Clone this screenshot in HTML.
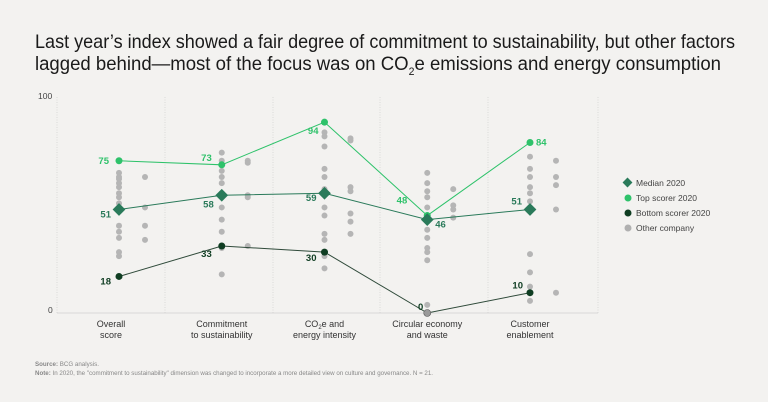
<!DOCTYPE html>
<html><head><meta charset="utf-8"><style>
html,body{margin:0;padding:0;background:#f3f2f0;}
svg{display:block;font-family:"Liberation Sans",sans-serif;}
</style></head><body>
<svg id="chart" width="768" height="402" viewBox="0 0 768 402" xmlns="http://www.w3.org/2000/svg">
<rect width="768" height="402" fill="#f3f2f0"/>
<text x="35" y="48" font-size="19.5" fill="#1a1a1a" textLength="700" lengthAdjust="spacingAndGlyphs">Last year’s index showed a fair degree of commitment to sustainability, but other factors</text>
<text x="35" y="70" font-size="19.5" fill="#1a1a1a" transform="translate(35 0) scale(0.953 1) translate(-35 0)">lagged behind—most of the focus was on CO<tspan font-size="11" dy="5">2</tspan><tspan dy="-5">e emissions and energy consumption</tspan></text>
<g id="plot"></g>
<g>
 <rect x="624" y="179" width="7" height="7" fill="#2a7a5a" transform="rotate(45 627.5 182.5)"/>
 <text x="636" y="186" font-size="8.5" fill="#444">Median 2020</text>
 <circle cx="628" cy="198" r="3.5" fill="#2ec26a"/>
 <text x="636" y="201" font-size="8.5" fill="#444">Top scorer 2020</text>
 <circle cx="628" cy="213" r="3.5" fill="#0f3d22"/>
 <text x="636" y="216" font-size="8.5" fill="#444">Bottom scorer 2020</text>
 <circle cx="628" cy="228" r="3.5" fill="#b0b0b0"/>
 <text x="636" y="231" font-size="8.5" fill="#444">Other company</text>
</g>
<text x="35" y="366" font-size="6.2" fill="#888"><tspan font-weight="bold">Source:</tspan> BCG analysis.</text>
<text x="35" y="375" font-size="6.2" fill="#888" textLength="398" lengthAdjust="spacingAndGlyphs"><tspan font-weight="bold">Note:</tspan> In 2020, the "commitment to sustainability" dimension was changed to incorporate a more detailed view on culture and governance. N = 21.</text>
</svg>
<script>
const categories=[["Overall","score"],["Commitment","to sustainability"],["CO2e and","energy intensity"],["Circular economy","and waste"],["Customer","enablement"]];
const medianScores=[51,58,59,46,51];
const topScores=[75,73,94,48,84];
const bottomScores=[18,33,30,0,10];
const othersMain=[[69,67,66,64,62,59,57,54,43,40,37,30,28],[79,75,70,67,64,59,58,52,46,40,32,19],[89,87,82,71,67,61,52,48,39,36,28,22],[69,64,60,57,52,45,41,37,32,30,26,4],[77,71,67,62,59,55,29,20,13,6]];
const othersSide=[[67,52,43,36],[75,74,58,57,33],[86,85,62,60,49,45,39],[61,53,51,47],[75,67,63,51,10]];
const yTicks=[0,100];

const NS="http://www.w3.org/2000/svg";
const g=document.getElementById('plot');
const y=v=>313-2.03*v;
const x=i=>119+i*102.75;
const xs=i=>x(i)+26;
function el(t,a){const e=document.createElementNS(NS,t);for(const k in a)e.setAttribute(k,a[k]);g.appendChild(e);return e;}
[57,165,273,380,488,598].forEach(gx=>{
 const l=el('line',{x1:gx,y1:97,x2:gx,y2:313,stroke:'#cfcfcf','stroke-width':0.7,'stroke-dasharray':'1,1.5'});
 
 
});
const ax=el('line',{x1:57,y1:313,x2:598,y2:313,stroke:'#cfcfcf','stroke-width':0.8});


yTicks.forEach(t=>{
 const tx=el('text',{x:t===100?38:48,y:t===0?y(t):y(t)-11,'font-size':8.5,fill:'#444'});
 tx.textContent=t;
 
 
});
categories.forEach((c,i)=>{
 c.forEach((s,j)=>{
  const t=el('text',{x:x(i)-(i===0?8:0),y:327+j*11,'font-size':9,fill:'#333','text-anchor':'middle'});
  if(s.startsWith('CO2')){t.innerHTML='CO<tspan font-size="6" dy="2">2</tspan><tspan dy="-2">e and</tspan>';}
  else t.textContent=s;
  
  
 });
});
othersMain.forEach((arr,i)=>arr.forEach(v=>{
 const c=el('circle',{cx:x(i),cy:y(v),r:3,fill:'#b5b5b5'});
 
 
}));
othersSide.forEach((arr,i)=>arr.forEach(v=>{
 const c=el('circle',{cx:xs(i),cy:y(v),r:3,fill:'#b5b5b5'});
 
 
}));
function line(vals,color,name){
 const p=el('polyline',{points:vals.map((v,i)=>x(i)+','+y(v)).join(' '),fill:'none',stroke:color,'stroke-width':1});
 
 
}
line(topScores,'#2ec26a','top-scorer-line');
line(medianScores,'#2a7a5a','median-line');
line(bottomScores,'#2f4a3a','bottom-scorer-line');
topScores.forEach((v,i)=>{
 const c=el('circle',{cx:x(i),cy:y(v),r:3.5,fill:'#2ec26a'});
 
 
});
medianScores.forEach((v,i)=>{
 const r=el('rect',{x:x(i)-4.5,y:y(v)-4.5,width:9,height:9,fill:'#2a7a5a',transform:`rotate(45 ${x(i)} ${y(v)})`});
 
 
});
bottomScores.forEach((v,i)=>{
 const c=el('circle',{cx:x(i),cy:y(v),r:3.5,fill:v===0?'#9a9a9a':'#0f3d22',stroke:v===0?'#555':'none','stroke-width':0.6});
 
 
});
const topOff=[[-10,3,'end'],[-10,-4,'end'],[-6,12,'end'],[-20,-12,'end'],[6,3,'start']];
const medOff=[[-8,8,'end'],[-8,12,'end'],[-8,8,'end'],[8,8,'start'],[-8,-5,'end']];
const botOff=[[-8,8,'end'],[-10,11,'end'],[-8,9,'end'],[-4,-3,'end'],[-7,-4,'end']];
function labels(vals,off,color,name){
 vals.forEach((v,i)=>{
  const t=el('text',{x:x(i)+off[i][0],y:y(v)+off[i][1],'font-size':9.5,'font-weight':'bold',fill:color,'text-anchor':off[i][2]});
  t.textContent=v;
  
  
 });
}
labels(topScores,topOff,'#2ec26a','top-scorer-value');
labels(medianScores,medOff,'#2a7a5a','median-value');
labels(bottomScores,botOff,'#0f3d22','bottom-scorer-value');
</script>
</body></html>
